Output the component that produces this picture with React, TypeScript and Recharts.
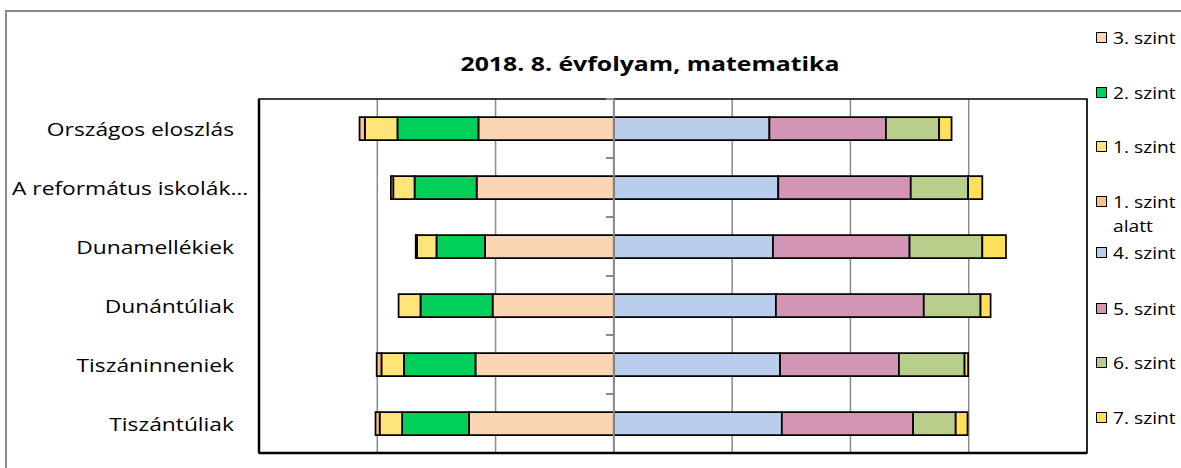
import {
  BarChart,
  Bar,
  XAxis,
  YAxis,
  CartesianGrid,
  ReferenceLine,
  ReferenceArea,
  Legend,
} from "recharts";

// Share of students (%) per proficiency level, 2018, grade 8, maths
const categories = [
  "Országos eloszlás",
  "A református iskolák…",
  "Dunamellékiek",
  "Dunántúliak",
  "Tiszáninneniek",
  "Tiszántúliak",
];

// left side (drawn from the centre outwards)
const level3 = [22.9, 23.2, 21.8, 20.5, 23.4, 24.5];
const level2 = [13.7, 10.5, 8.2, 12.2, 12.1, 11.3];
const level1 = [5.5, 3.6, 3.3, 3.7, 3.8, 3.8];
const below1 = [0.9, 0.4, 0.2, 0, 0.8, 0.7];
// right side
const level4 = [26.3, 27.8, 26.9, 27.4, 28.1, 28.4];
const level5 = [19.7, 22.4, 23.1, 25.0, 20.1, 22.2];
const level6 = [9.0, 9.7, 12.3, 9.6, 11.1, 7.2];
const level7 = [2.1, 2.4, 4.0, 1.7, 0.6, 2.0];

const xTicks = [-60, -40, -20, 0, 20, 40, 60, 80];

const series = [
  { key: "l3", name: "3. szint", values: level3, color: "#FCD5B5", left: true },
  { key: "l2", name: "2. szint", values: level2, color: "#00D05A", left: true },
  { key: "l1", name: "1. szint", values: level1, color: "#FFE47A", left: true },
  { key: "b1", name: "1. szint alatt", values: below1, color: "#FAC090", left: true },
  { key: "l4", name: "4. szint", values: level4, color: "#B9CEEC", left: false },
  { key: "l5", name: "5. szint", values: level5, color: "#D295B4", left: false },
  { key: "l6", name: "6. szint", values: level6, color: "#B8CE8A", left: false },
  { key: "l7", name: "7. szint", values: level7, color: "#FFDF5B", left: false },
];

const legendTops = [38, 93, 147, 202, 253, 309, 363, 418];

const FONT = "'Open Sans', 'Noto Sans', sans-serif";

// the original export is a little stretched sideways
function CategoryTick({ y, payload }: any) {
  const label: string = payload.value;
  const long = label.length > 18;
  const x = long ? 12 : 234;
  return (
    <text
      transform={`translate(${x},${y}) scale(1.2,1)`}
      x={0}
      y={0}
      textAnchor={long ? "start" : "end"}
      dominantBaseline="central"
      fontSize={19}
      fontFamily={FONT}
      fill="#000"
    >
      {label}
    </text>
  );
}

function LegendBox() {
  return (
    <div style={{ position: "relative", width: 91, height: 468 }}>
      {series.map((s, i) => {
        const parts = s.name === "1. szint alatt" ? ["1. szint", "alatt"] : [s.name];
        return (
          <div
            key={s.key}
            style={{
              position: "absolute",
              left: 6,
              top: legendTops[i] - 11,
              fontFamily: FONT,
              fontSize: 16,
              lineHeight: "22px",
              color: "#000",
              whiteSpace: "nowrap",
            }}
          >
            <span
              style={{
                position: "absolute",
                left: 0,
                top: 5,
                width: 9,
                height: 9,
                background: s.color,
                border: "1.5px solid #000",
              }}
            />
            <div style={{ marginLeft: 17 }}>
              {parts.map((p) => (
                <div
                  key={p}
                  style={{
                    height: parts.length > 1 ? 24 : 22,
                    transform: "scaleX(1.2)",
                    transformOrigin: "left center",
                  }}
                >
                  {p}
                </div>
              ))}
            </div>
          </div>
        );
      })}
    </div>
  );
}

export default function App() {
  const data = categories.map((name, i) => {
    const row: Record<string, number | string> = { name };
    series.forEach((s) => {
      row[s.key] = s.left ? -s.values[i] : s.values[i];
    });
    return row;
  });

  return (
    <div
      style={{
        position: "fixed",
        left: 0,
        top: 0,
        width: 1181,
        height: 468,
        overflow: "hidden",
        background: "#fff",
      }}
    >
      <div
        style={{
          position: "absolute",
          left: 5,
          top: 10,
          width: 1300,
          height: 600,
          borderLeft: "2px solid #8a8a8a",
          borderTop: "2px solid #8a8a8a",
        }}
      />
      <div
        style={{
          position: "absolute",
          left: 350,
          width: 600,
          top: 50,
          textAlign: "center",
          fontFamily: FONT,
          fontWeight: 700,
          fontSize: 20,
          color: "#000",
          transform: "scaleX(1.24)",
          transformOrigin: "center",
        }}
      >
        2018. 8. évfolyam, matematika
      </div>
      <BarChart
        width={1181}
        height={468}
        data={data}
        layout="vertical"
        stackOffset="sign"
        margin={{ top: 99, right: 94, bottom: 15, left: 9 }}
      >
        <CartesianGrid
          horizontal={false}
          vertical
          stroke="#8a8a8a"
          strokeWidth={1.5}
        />
        <XAxis type="number" domain={[-60, 80]} ticks={xTicks} hide />
        <YAxis
          type="category"
          dataKey="name"
          width={250}
          axisLine={false}
          tickLine={false}
          tick={<CategoryTick />}
          interval={0}
        />
        {series.map((s) => (
          <Bar
            key={s.key}
            dataKey={s.key}
            name={s.name}
            stackId="a"
            fill={s.color}
            stroke="#000"
            strokeWidth={1.75}
            barSize={23}
            isAnimationActive={false}
          />
        ))}
        <ReferenceLine x={0} stroke="#8a8a8a" strokeWidth={2} />
        {categories.map((c) => (
          <ReferenceLine
            key={"t" + c}
            segment={[
              { x: -1.35, y: c },
              { x: 0, y: c },
            ]}
            position="start"
            stroke="#8a8a8a"
            strokeWidth={2}
          />
        ))}
        <ReferenceArea
          x1={-60}
          x2={80}
          fill="none"
          fillOpacity={0}
          stroke="#000"
          strokeWidth={1.5}
        />
        <ReferenceLine x={-60} stroke="#000" strokeWidth={2.5} />
        <ReferenceLine
          segment={[
            { x: -60, y: categories[categories.length - 1] },
            { x: 80, y: categories[categories.length - 1] },
          ]}
          position="end"
          stroke="#000"
          strokeWidth={2.5}
        />
        <Legend
          layout="vertical"
          align="center"
          verticalAlign="middle"
          wrapperStyle={{ left: 1090, top: 0, width: 91, height: 468 }}
          content={() => <LegendBox />}
        />
      </BarChart>
    </div>
  );
}
